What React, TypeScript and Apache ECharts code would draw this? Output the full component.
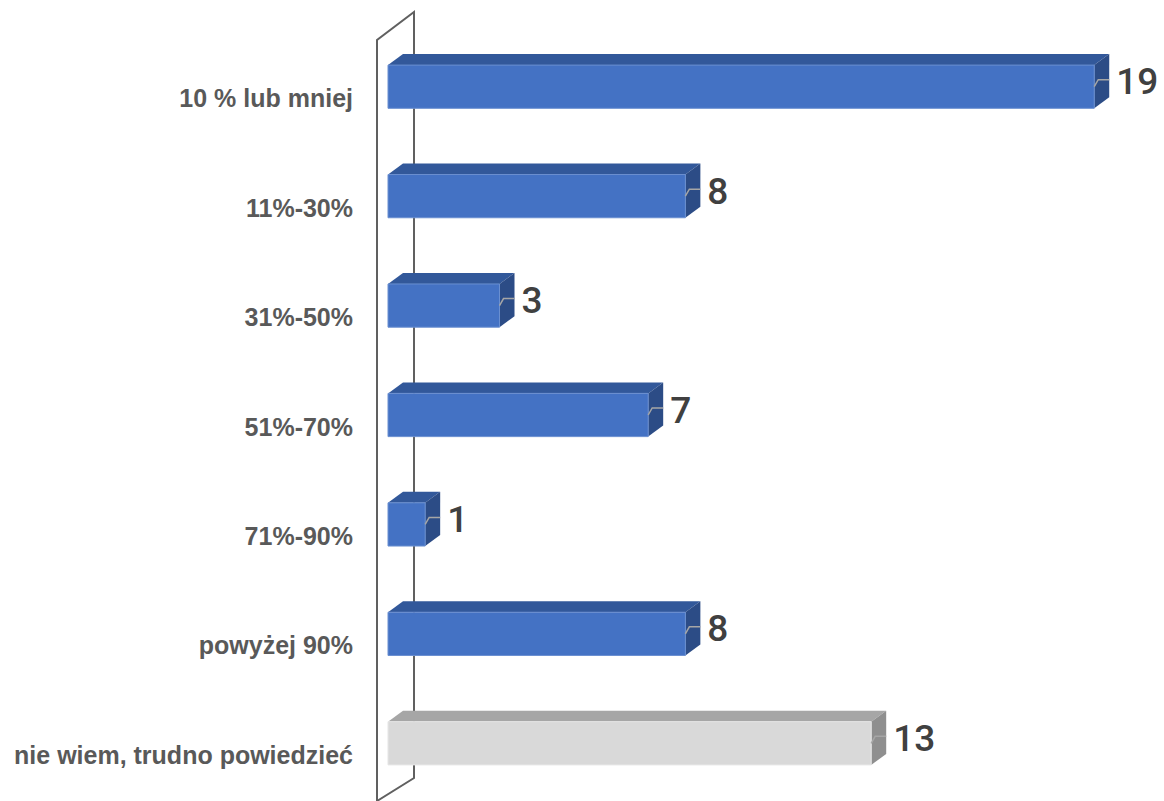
import React, { useEffect, useRef } from "react";
import * as echarts from "echarts";

const categories = [
  "10 % lub mniej",
  "11%-30%",
  "31%-50%",
  "51%-70%",
  "71%-90%",
  "powyżej 90%",
  "nie wiem, trudno powiedzieć",
];
const values = [19, 8, 3, 7, 1, 8, 13];
const neutralIndex = 6;

const BLUE = { front: "#4472C4", top: "#32589A", side: "#2C4C86", edge: "#6A8FD0" };
const GRAY = { front: "#D9D9D9", top: "#A6A6A6", side: "#8F8F8F", edge: "#E6E6E6" };
const LABEL_FONT = "'Liberation Sans', Arial, sans-serif";
const VALUE_FONT = "Roboto, 'Liberation Sans', Arial, sans-serif";

export default function App() {
  const ref = useRef<HTMLDivElement>(null);
  useEffect(() => {
    document.body.style.margin = "0";
    const chart = echarts.init(ref.current!, null, { renderer: "svg" });
    const DX = 15;
    const DY = 11;
    chart.setOption({
      animation: false,
      grid: { left: 388, top: 32, width: 743.4, height: 766 },
      xAxis: { type: "value", min: 0, max: 20, show: false },
      yAxis: {
        type: "category",
        data: categories,
        inverse: true,
        axisLine: { show: false },
        axisTick: { show: false },
        splitLine: { show: false },
        axisLabel: {
          margin: 35,
          color: "#595959",
          fontSize: 25,
          fontWeight: "bold",
          fontFamily: LABEL_FONT,
          verticalAlign: "top",
          lineHeight: 23,
        },
      },
      graphic: [
        {
          type: "polyline",
          z: -10,
          shape: {
            points: [
              [377, 810],
              [377, 40],
              [414, 12],
              [414, 778],
              [377, 801],
            ],
          },
          style: { stroke: "#606060", lineWidth: 2, fill: null },
        },
      ],
      series: [
        {
          type: "custom",
          data: values.map((v, i) => [v, i]),
          encode: { x: 0, y: 1 },
          renderItem: (params: any, api: any) => {
            const v = api.value(0);
            const idx = api.value(1);
            const start = api.coord([0, idx]);
            const end = api.coord([v, idx]);
            const band = api.size([0, 1])[1];
            const h = band * 0.395;
            const x0 = start[0];
            const xf = end[0];
            const yc = end[1];
            const yt = yc - h / 2;
            const yb = yc + h / 2;
            const c = idx === neutralIndex ? GRAY : BLUE;
            return {
              type: "group",
              children: [
                {
                  type: "polygon",
                  shape: { points: [[x0, yt], [x0 + DX, yt - DY], [xf + DX, yt - DY], [xf, yt]] },
                  style: { fill: c.top },
                },
                {
                  type: "polygon",
                  shape: { points: [[xf, yt], [xf + DX, yt - DY], [xf + DX, yb - DY], [xf, yb]] },
                  style: { fill: c.side },
                },
                {
                  type: "rect",
                  shape: { x: x0, y: yt, width: xf - x0, height: h },
                  style: { fill: c.front, stroke: c.edge, lineWidth: 1 },
                },
                {
                  type: "polyline",
                  shape: { points: [[xf, yc], [xf + 4, yc - 7], [xf + DX, yc - 7]] },
                  style: { stroke: "#A6A6A6", lineWidth: 1.5, fill: null },
                },
                {
                  type: "text",
                  style: {
                    text: String(v),
                    x: xf + 22,
                    y: yc - 5,
                    align: "left",
                    verticalAlign: "middle",
                    fontSize: 37,
                    fontWeight: 500,
                    fontFamily: VALUE_FONT,
                    fill: "#404040",
                  },
                },
              ],
            };
          },
        },
      ],
    });
    return () => chart.dispose();
  }, []);
  return <div ref={ref} style={{ width: 1164, height: 801 }} />;
}
